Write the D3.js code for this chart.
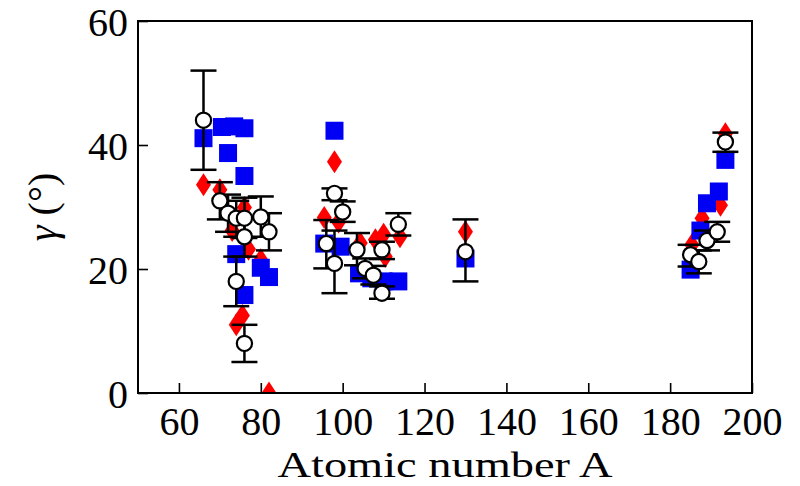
<!DOCTYPE html>
<html>
<head>
<meta charset="utf-8">
<script src="https://cdn.jsdelivr.net/npm/d3@7"></script>
<style>
  html, body { margin: 0; padding: 0; background: #fff; }
  svg { display: block; }
  text { font-family: "Liberation Serif", "DejaVu Serif", serif; fill: #000; }
</style>
</head>
<body>
<svg id="chart" width="800" height="486"></svg>
<script>
// Tick values
const xTicks = [60, 80, 100, 120, 140, 160, 180, 200];
const yTicks = [0, 20, 40, 60];

// Blue squares: atomic number A and angle gamma (deg)
const squareA = [66, 70.5, 73.5, 76, 72, 76, 74, 80, 82, 76,
                 98, 95.5, 99.5, 104, 107, 110, 113.6, 130,
                 185, 187.4, 189, 191.9, 193.5];
const squareG = [41.1, 42.9, 43.0, 42.7, 38.7, 35.0, 22.4, 20.2, 18.7, 15.8,
                 42.3, 24.1, 23.6, 19.3, 18.5, 18.0, 18.0, 21.7,
                 19.9, 26.2, 30.6, 32.5, 37.6];

// Red diamonds
const diamondA = [66, 70, 76, 73, 77, 80, 74, 75.5, 82,
                  98, 95.5, 99, 104.3, 108, 110, 110.4, 114, 130,
                  185.3, 187.8, 192.3, 193.5];
const diamondG = [33.6, 32.8, 29.9, 26.2, 23.2, 21.5, 11.0, 12.5, 0,
                  37.3, 28.3, 27.6, 24.2, 24.7, 25.6, 22.0, 25.2, 26.0,
                  23.9, 28.2, 30.3, 41.8];

// Open circles with error bars (value, lower, upper)
const circleA  = [66, 70, 72, 74, 76, 80, 82, 76, 74, 76,
                  98, 100, 96, 98, 103.5, 105.5, 107.5, 109.6, 109.6, 113.6,
                  130, 185, 187, 189, 191.5, 193.5];
const circleG  = [44.0, 31.0, 29.0, 28.2, 28.2, 28.4, 26.0, 25.2, 18.0, 8.0,
                  32.2, 29.2, 24.1, 20.9, 23.1, 20.1, 19.0, 23.1, 16.1, 27.2,
                  22.8, 22.3, 21.2, 24.6, 26.0, 40.5];
const circleLo = [36.0, 28.0, 26.0, 25.2, 25.0, 25.2, 23.0, 22.0, 14.0, 5.0,
                  31.1, 27.6, 20.1, 16.1, 20.6, 18.5, 17.5, 21.6, 15.2, 25.4,
                  18.0, 20.4, 19.3, 23.0, 24.4, 38.9];
const circleHi = [52.0, 34.0, 32.0, 31.0, 31.5, 31.7, 29.0, 28.3, 22.0, 11.0,
                  33.0, 30.9, 27.9, 26.2, 25.8, 21.7, 20.5, 24.4, 17.2, 29.0,
                  28.0, 23.9, 23.0, 26.2, 27.6, 42.0];

const svg = d3.select("#chart");
const margin = { left: 138, top: 21, right: 48, bottom: 93 };
const W = 800, H = 486;
const x = d3.scaleLinear().domain([50, 200]).range([margin.left, W - margin.right]);
const y = d3.scaleLinear().domain([0, 60]).range([H - margin.bottom, margin.top]);

svg.append("defs").append("clipPath").attr("id", "plotClip")
  .append("rect")
  .attr("x", x(50)).attr("y", y(60))
  .attr("width", x(200) - x(50)).attr("height", y(0) - y(60));

const plot = svg.append("g").attr("clip-path", "url(#plotClip)");

// Red diamonds (drawn first, lowest layer)
const dw = 7.5, dh = 11.5;
plot.append("g").selectAll("path")
  .data(d3.zip(diamondA, diamondG))
  .join("path")
  .attr("transform", d => `translate(${x(d[0])},${y(d[1])})`)
  .attr("d", `M0,${-dh}L${dw},0L0,${dh}L${-dw},0Z`)
  .attr("fill", "#f00");

// Blue squares
const s = 18;
plot.append("g").selectAll("rect")
  .data(d3.zip(squareA, squareG))
  .join("rect")
  .attr("x", d => x(d[0]) - s / 2)
  .attr("y", d => y(d[1]) - s / 2)
  .attr("width", s).attr("height", s)
  .attr("fill", "#0000f5");

// Error bars with caps
const circles = circleA.map((a, i) => ({ a, g: circleG[i], lo: circleLo[i], hi: circleHi[i] }));
const cap = 13;
const eb = plot.append("g").attr("stroke", "#000").attr("stroke-width", 2.5);
circles.forEach(c => {
  eb.append("line").attr("x1", x(c.a)).attr("x2", x(c.a)).attr("y1", y(c.lo)).attr("y2", y(c.hi));
  eb.append("line").attr("x1", x(c.a) - cap).attr("x2", x(c.a) + cap).attr("y1", y(c.lo)).attr("y2", y(c.lo));
  eb.append("line").attr("x1", x(c.a) - cap).attr("x2", x(c.a) + cap).attr("y1", y(c.hi)).attr("y2", y(c.hi));
});

// Open circles
plot.append("g").selectAll("circle")
  .data(circles)
  .join("circle")
  .attr("cx", d => x(d.a)).attr("cy", d => y(d.g))
  .attr("r", 7.6)
  .attr("fill", "#fff").attr("stroke", "#000").attr("stroke-width", 2.2);

// Axes with inward ticks
const xAxis = d3.axisBottom(x).tickValues(xTicks).tickSize(-10).tickPadding(20).tickFormat(d3.format("d"));
const yAxis = d3.axisLeft(y).tickValues(yTicks).tickSize(-10).tickPadding(20).tickFormat(d3.format("d"));

const gx = svg.append("g").attr("transform", `translate(0,${y(0)})`).call(xAxis);
const gy = svg.append("g").attr("transform", `translate(${x(50)},0)`).call(yAxis);
[gx, gy].forEach(g => {
  g.select(".domain").remove();
  g.selectAll(".tick line").attr("stroke", "#000").attr("stroke-width", 1.6);
  g.selectAll(".tick text").attr("font-size", 40).attr("font-family", "Liberation Serif, serif");
});
gx.selectAll(".tick text").attr("dy", null).attr("y", 42);
gy.selectAll(".tick text").attr("x", -10).attr("dy", "0.35em");

// Frame
svg.append("rect")
  .attr("x", x(50)).attr("y", y(60))
  .attr("width", x(200) - x(50)).attr("height", y(0) - y(60))
  .attr("fill", "none").attr("stroke", "#000").attr("stroke-width", 2);

// Axis titles
svg.append("text")
  .attr("x", (x(50) + x(200)) / 2).attr("y", 477)
  .attr("text-anchor", "middle").attr("font-size", 36)
  .attr("textLength", 335).attr("lengthAdjust", "spacingAndGlyphs")
  .text("Atomic number A");

const yl = svg.append("text")
  .attr("transform", `translate(56,${(y(0) + y(60)) / 2}) rotate(-90)`)
  .attr("text-anchor", "middle").attr("font-size", 40);
yl.append("tspan").attr("font-style", "italic").text("γ");
yl.append("tspan").text(" (°)");
</script>
</body>
</html>
